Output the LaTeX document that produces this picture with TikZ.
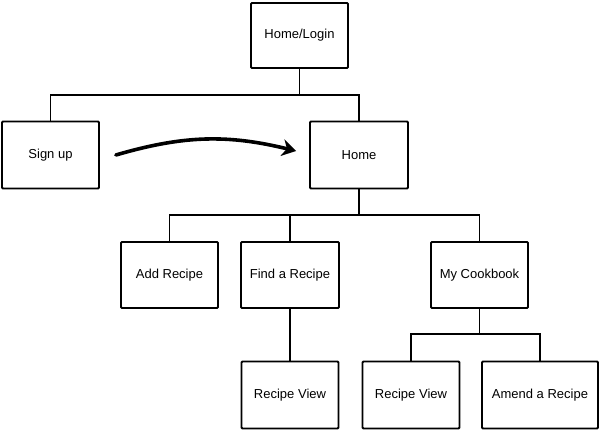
\documentclass[tikz,border=0pt]{standalone}
\usepackage{fontspec}
\setmainfont{Liberation Sans}
\usetikzlibrary{arrows.meta}

\begin{document}
\begin{tikzpicture}[x=1pt,y=-1pt,
    page/.style={draw,line width=1.8pt,rounded corners=1pt,fill=white,
      minimum width=97pt,minimum height=66pt,inner sep=0pt,
      font=\fontsize{13}{15}\selectfont},
    link/.style={line width=1.8pt},
    flow/.style={line width=3.6pt,line cap=round,-{Stealth[length=14pt,width=17pt]}}]
  \useasboundingbox[fill=white] (0,0) rectangle (599,430);

  % top level
  \node[page,minimum height=65pt] (login) at (299.5,35.5) {Home/Login};
  \node[page,minimum height=67pt] (signup) at (50.5,155) {Sign up};
  \node[page,minimum width=98pt,minimum height=67pt] (home) at (359,155) {Home};

  % pages under home
  \node[page] (add) at (169.5,275) {Add Recipe};
  \node[page,minimum width=98pt] (find) at (290,275) {Find a Recipe};
  \node[page] (cookbook) at (479.5,275) {My Cookbook};

  % bottom row
  \node[page,minimum height=67pt] (viewA) at (290,395) {Recipe View};
  \node[page,minimum height=67pt] (viewB) at (411,395) {Recipe View};
  \node[page,minimum width=116pt,minimum height=67pt] (amend) at (540,395) {Amend a Recipe};

  \coordinate (j1) at (299.5,95);
  \coordinate (j2) at (359,215);
  \coordinate (j3) at (479.5,334);

  \draw[link] (login) -- (j1);
  \draw[link] (signup.north) |- (j1) -| (home.north);
  \draw[link] (home) -- (j2);
  \draw[link] (add.north) |- (j2) -| (cookbook.north);
  \draw[link] (find.north) -- (find.north |- j2);
  \draw[link] (find) -- (viewA);
  \draw[link] (cookbook) -- (j3);
  \draw[link] (viewB.north) |- (j3) -| (amend.north);

  \draw[flow] ([xshift=16pt]signup.east) to[bend left=15] ([xshift=-13pt,yshift=4pt]home.west);
\end{tikzpicture}
\end{document}
